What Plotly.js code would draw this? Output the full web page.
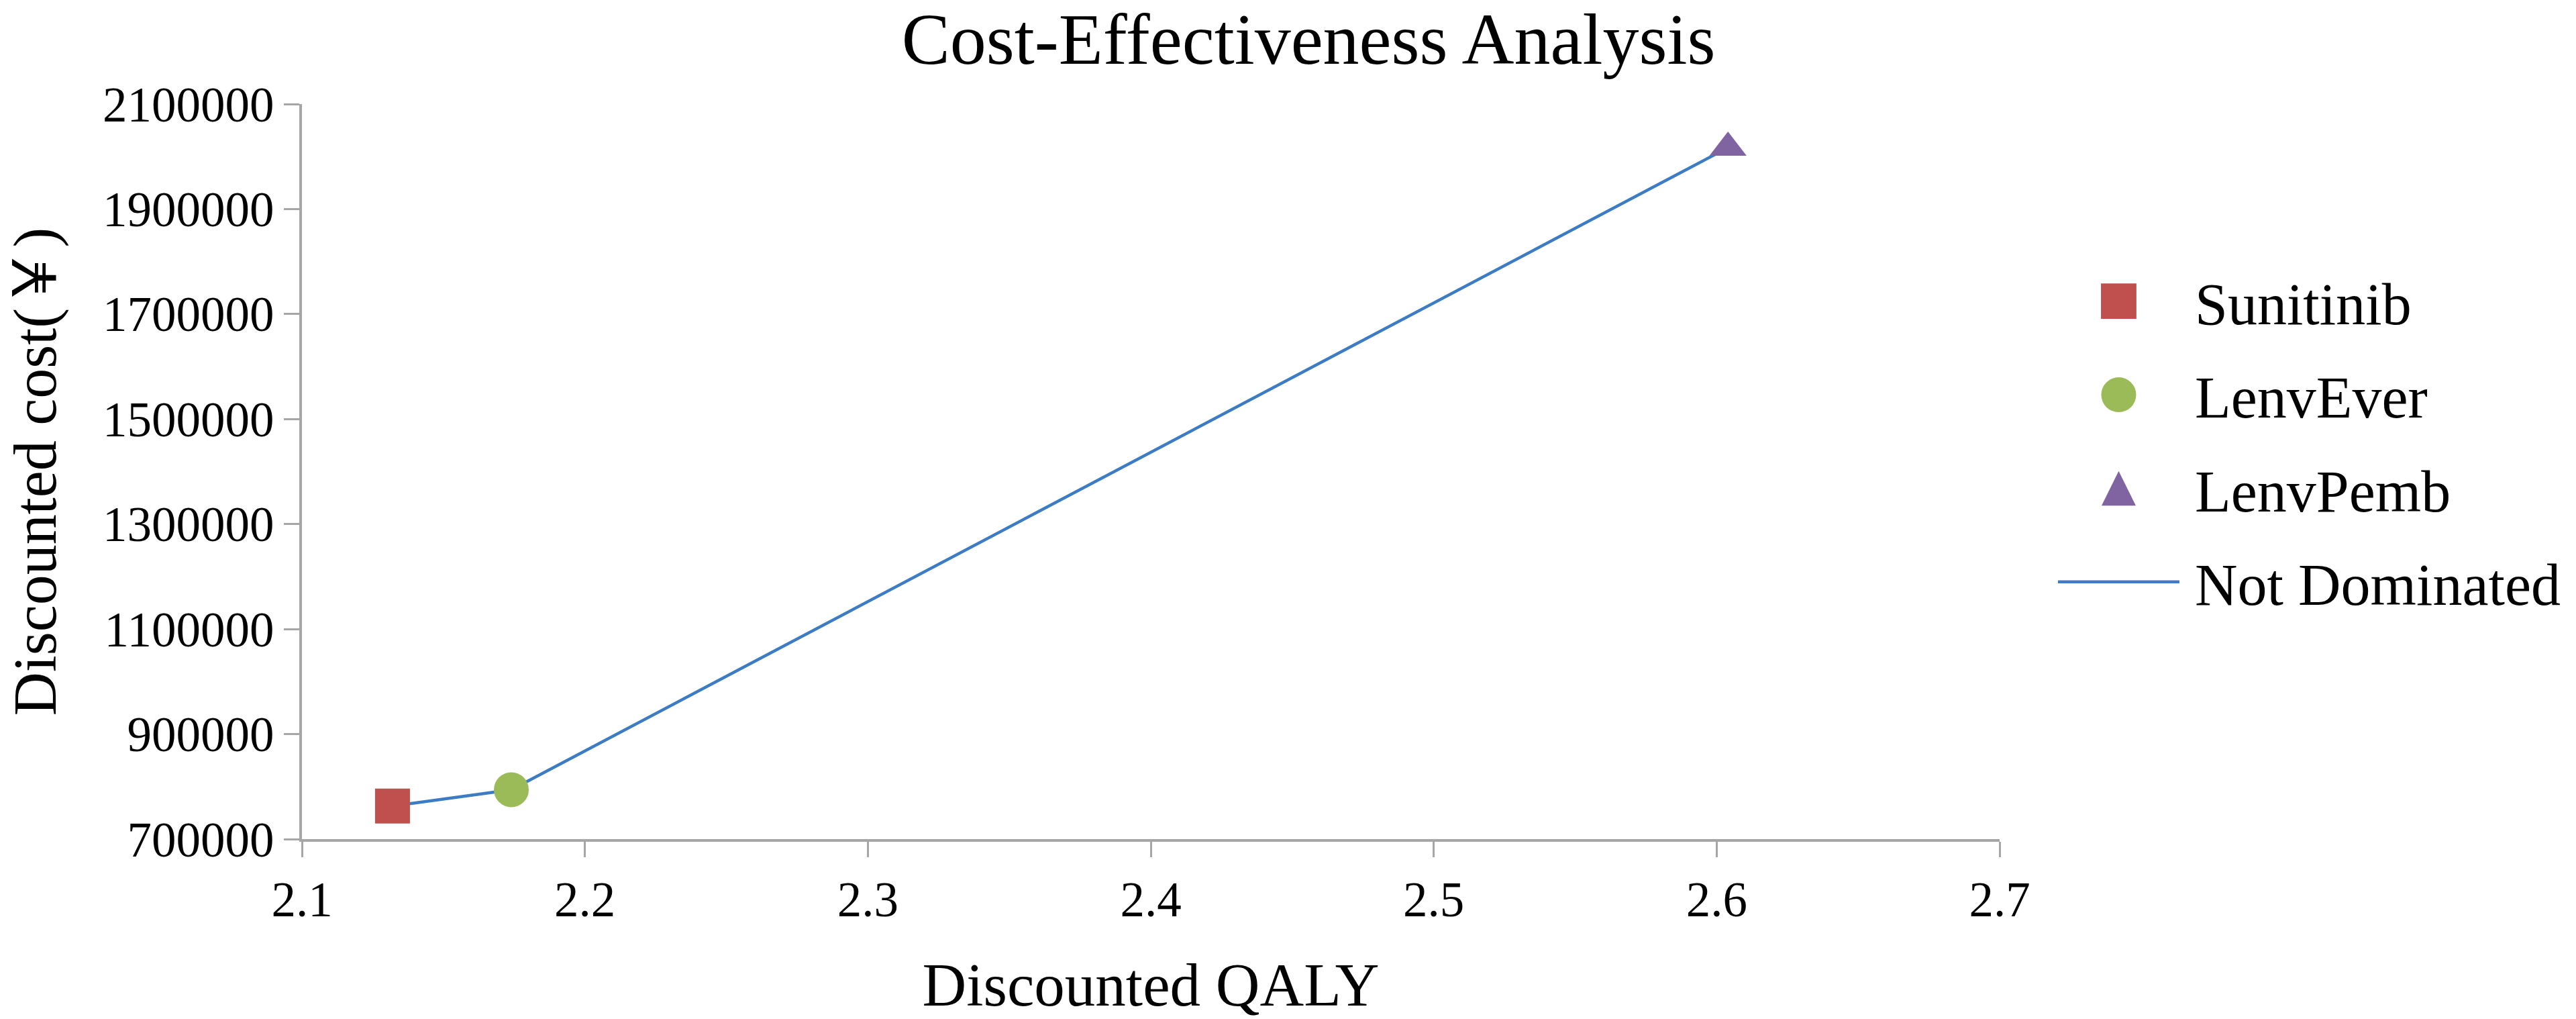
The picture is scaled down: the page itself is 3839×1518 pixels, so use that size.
<!DOCTYPE html>
<html>
<head>
<meta charset="utf-8">
<script src="https://cdn.plot.ly/plotly-3.0.1.min.js"></script>
<style>
  html, body { margin: 0; padding: 0; background: #ffffff; }
  #chart { width: 3839px; height: 1518px; }
</style>
</head>
<body>
<div id="chart"></div>
<script>
// ---- data ----
var treatments = ['Sunitinib', 'LenvEver', 'LenvPemb'];
var qaly = [2.132, 2.174, 2.604];
var cost = [763000, 794000, 2017000];
var frontierName = 'Not Dominated';
var yTickVals = [700000, 900000, 1100000, 1300000, 1500000, 1700000, 1900000, 2100000];
var xTickVals = [2.1, 2.2, 2.3, 2.4, 2.5, 2.6, 2.7];

// ---- styles ----
var markerColors = ['#C0504D', '#9BBB59', '#8064A2'];
var markerSymbols = ['square', 'circle', 'triangle-up'];
var markerSizes = [52, 52, 48];
var FONT = '"Liberation Serif", "Times New Roman", Times, "Noto Sans CJK SC", serif';
var AXIS_GRAY = '#A6A6A6';

var data = [];
data.push({
  type: 'scatter', mode: 'lines', name: frontierName,
  x: qaly, y: cost,
  line: { color: '#3C7CC4', width: 4.5 },
  legendgroup: 'g4', legendrank: 4,
  hoverinfo: 'x+y+name'
});
treatments.forEach(function (t, i) {
  data.push({
    type: 'scatter', mode: 'markers', name: t,
    x: [qaly[i]], y: [cost[i]],
    marker: { symbol: markerSymbols[i], size: markerSizes[i], color: markerColors[i], line: { width: 0 } },
    legendgroup: 'g' + (i + 1), legendrank: i + 1
  });
});

var layout = {
  width: 3839, height: 1518,
  paper_bgcolor: '#ffffff', plot_bgcolor: '#ffffff',
  margin: { l: 450, r: 859, t: 155, b: 268, pad: 0 },
  font: { family: FONT, color: '#000000', size: 73 },
  title: {
    text: 'Cost-Effectiveness Analysis',
    font: { family: FONT, size: 108, color: '#000000' },
    xref: 'container', x: 0.508, xanchor: 'center',
    yref: 'container', y: 0.9624, yanchor: 'middle'
  },
  xaxis: {
    range: [2.1, 2.7], tickvals: xTickVals, tickformat: '.1f',
    showgrid: false, zeroline: false,
    showline: true, linecolor: AXIS_GRAY, linewidth: 4,
    ticks: 'outside', ticklen: 23, tickwidth: 3, tickcolor: AXIS_GRAY,
    tickfont: { family: FONT, size: 73, color: '#000000' },
    title: { text: 'Discounted QALY', font: { family: FONT, size: 91, color: '#000000' }, standoff: 57 },
    automargin: false, fixedrange: true
  },
  yaxis: {
    range: [700000, 2100000], tickvals: yTickVals, tickformat: 'd',
    showgrid: false, zeroline: false,
    showline: true, linecolor: AXIS_GRAY, linewidth: 4,
    ticks: 'outside', ticklen: 23, tickwidth: 3, tickcolor: AXIS_GRAY,
    tickfont: { family: FONT, size: 73, color: '#000000' },
    title: { text: 'Discounted cost(￥)', font: { family: FONT, size: 90, color: '#000000' }, standoff: 40 },
    automargin: false, fixedrange: true
  },
  showlegend: true,
  legend: {
    x: 1.0324, xanchor: 'left', y: 0.79, yanchor: 'top',
    font: { family: FONT, size: 88, color: '#000000' },
    itemwidth: 181, traceorder: 'grouped', tracegroupgap: 22,
    bgcolor: 'rgba(0,0,0,0)', borderwidth: 0
  }
};

Plotly.newPlot('chart', data, layout, { staticPlot: true, displayModeBar: false }).then(function (gd) {
  // enlarge legend marker glyphs (Plotly caps them at 16px) and nudge the text, to match the reference
  var glyphScale = { 'Sunitinib': [3.3, 3.3, 0], 'LenvEver': [3.25, 3.25, 0], 'LenvPemb': [2.76, 4.3, 8.6] };
  gd.querySelectorAll('.legend [clip-path]').forEach(function (el) { el.removeAttribute('clip-path'); });
  var items = gd.querySelectorAll('.legend .traces');
  items.forEach(function (it) {
    var txt = it.querySelector('.legendtext');
    if (!txt) return;
    var tx = parseFloat(txt.getAttribute('x')) || 0;
    txt.setAttribute('x', tx + 18);
    var s = glyphScale[txt.textContent];
    if (!s) return;
    it.querySelectorAll('path.scatterpts').forEach(function (p) {
      var tr = p.getAttribute('transform') || '';
      p.setAttribute('transform', tr + ' translate(0,' + s[2] + ') scale(' + s[0] + ',' + s[1] + ')');
    });
  });
});
</script>
</body>
</html>
